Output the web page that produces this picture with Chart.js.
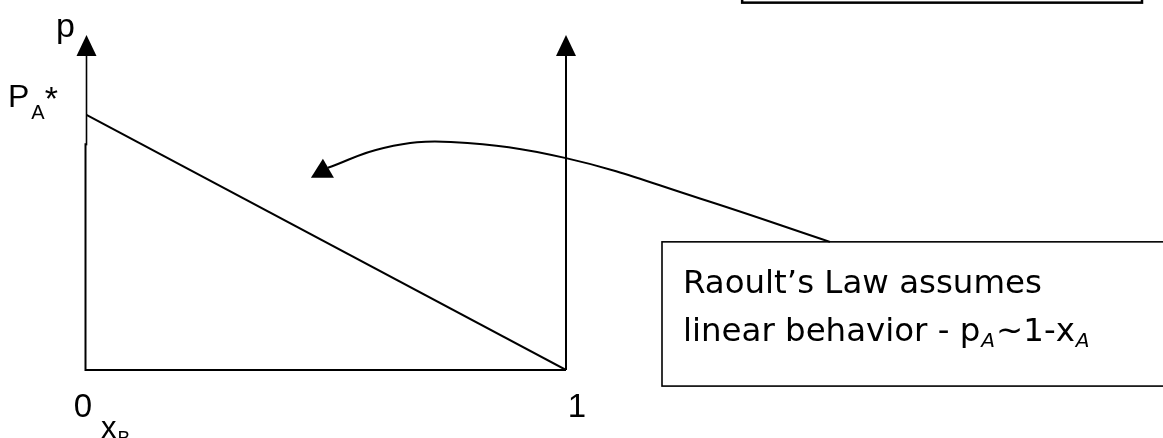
<!DOCTYPE html>
<html>
<head>
<meta charset="utf-8">
<script src="https://cdn.jsdelivr.net/npm/chart.js@4.4.1/dist/chart.umd.min.js"></script>
<style>
  html, body { margin: 0; padding: 0; background: #fff; overflow: hidden; }
</style>
</head>
<body>
<canvas id="chart" width="1163" height="438"></canvas>
<script>
// mole fraction of B and the ideal partial pressure of A (P_A* = 1)
const moleFractionB = [0, 1];
const pressureA = [1, 0];
const xTickValues = [0, 1];
const xTickLabels = ['0', '1'];

// callout arrow path, in data units
const curveX = [1.55, 1.279, 1.0, 0.76, 0.62, 0.504];
const curveY = [0.502, 0.672, 0.83, 0.893, 0.87, 0.792];

const noteLine1 = 'Raoult\u2019s Law assumes';
const noteLine2 = ['linear behavior - p', 'A', '~1-x', 'A'];

// boxes, in data units
const noteBox = { left: 1.2, right: 2.45, top: 0.502, bottom: -0.063 };
const topBox = { left: 1.367, right: 2.2, top: 1.6, bottom: 1.439 };

const AXIS_FONT = '"Liberation Sans", Arial, sans-serif';
const NOTE_FONT = '"DejaVu Sans", sans-serif';

function triangleUp(ctx, cx, tipY, halfW, h) {
    ctx.beginPath();
    ctx.moveTo(cx, tipY);
    ctx.lineTo(cx + halfW, tipY + h);
    ctx.lineTo(cx - halfW, tipY + h);
    ctx.closePath();
    ctx.fill();
}

function drawRich(ctx, x, y, parts) {
    parts.forEach(p => {
        ctx.font = p.font;
        ctx.fillText(p.text, x, y + (p.dy || 0));
        x += ctx.measureText(p.text).width + (p.gap || 0);
    });
}

const sketchPlugin = {
    id: 'sketch',
    afterDatasetsDraw(chart) {
        const ctx = chart.ctx;
        const xs = chart.scales.x;
        const ys = chart.scales.y;
        const px = v => xs.getPixelForValue(v);
        const py = v => ys.getPixelForValue(v);

        const xLeft = px(0), xRight = px(1), yBase = py(0), yTop = ys.top;

        ctx.save();
        ctx.strokeStyle = '#000';
        ctx.fillStyle = '#000';

        // axes
        ctx.lineWidth = 1.6;
        ctx.beginPath();
        ctx.moveTo(xLeft + 0.5, yTop);
        ctx.lineTo(xLeft + 0.5, py(0.88));
        ctx.stroke();
        ctx.lineWidth = 2;
        ctx.beginPath();
        ctx.moveTo(xLeft - 0.5, py(0.88) - 2);
        ctx.lineTo(xLeft - 0.5, yBase);
        ctx.lineTo(xRight, yBase);
        ctx.stroke();
        ctx.beginPath();
        ctx.moveTo(xRight, yBase);
        ctx.lineTo(xRight, yTop);
        ctx.stroke();

        triangleUp(ctx, xLeft + 0.5, yTop - 21, 10, 21);
        triangleUp(ctx, xRight, yTop - 21, 10, 21);

        // arrowhead at the end of the callout curve
        const endX = px(curveX[curveX.length - 1]);
        const endY = py(curveY[curveY.length - 1]);
        ctx.beginPath();
        ctx.moveTo(endX - 5, endY - 9);
        ctx.lineTo(endX + 6, endY + 10);
        ctx.lineTo(endX - 17, endY + 10);
        ctx.closePath();
        ctx.fill();

        // boxes
        ctx.lineWidth = 1.6;
        ctx.strokeRect(px(noteBox.left), py(noteBox.top),
            px(noteBox.right) - px(noteBox.left), py(noteBox.bottom) - py(noteBox.top));
        ctx.lineWidth = 2.5;
        ctx.strokeRect(px(topBox.left), py(topBox.top),
            px(topBox.right) - px(topBox.left), py(topBox.bottom) - py(topBox.top));

        // axis labels
        ctx.textBaseline = 'alphabetic';
        ctx.textAlign = 'center';
        ctx.font = '33px ' + AXIS_FONT;
        xTickValues.forEach((v, i) => {
            const off = v === 0 ? -3 : 11;
            ctx.fillText(xTickLabels[i], px(v) + off, yBase + 47);
        });

        ctx.textAlign = 'left';
        drawRich(ctx, 101, yBase + 68, [
            { text: 'x', font: '31px ' + AXIS_FONT, gap: 1 },
            { text: 'B', font: '19px ' + AXIS_FONT, dy: 6 }
        ]);

        ctx.font = '34px ' + AXIS_FONT;
        ctx.fillText('p', 56, yTop - 19);

        const yStar = py(1);
        drawRich(ctx, 8, yStar - 8, [
            { text: 'P', font: '32px ' + AXIS_FONT, gap: 2 },
            { text: 'A', font: '20px ' + AXIS_FONT, dy: 12, gap: 0 },
            { text: '*', font: '34px ' + AXIS_FONT, dy: 3 }
        ]);

        // note text
        const noteX = px(noteBox.left) + 21;
        const noteTop = py(noteBox.top);
        ctx.font = '32px ' + NOTE_FONT;
        const size = 32 * 359 / ctx.measureText(noteLine1).width;
        ctx.font = size + 'px ' + NOTE_FONT;
        ctx.fillText(noteLine1, noteX, noteTop + 51);
        drawRich(ctx, noteX, noteTop + 99, [
            { text: noteLine2[0], font: size + 'px ' + NOTE_FONT, gap: 1 },
            { text: noteLine2[1], font: 'italic ' + (size * 0.62) + 'px ' + NOTE_FONT, dy: 6, gap: 1 },
            { text: noteLine2[2], font: size + 'px ' + NOTE_FONT, gap: 1 },
            { text: noteLine2[3], font: 'italic ' + (size * 0.62) + 'px ' + NOTE_FONT, dy: 6 }
        ]);

        ctx.restore();
    }
};

new Chart(document.getElementById('chart'), {
    type: 'scatter',
    data: {
        datasets: [
            {
                label: 'Raoult',
                data: moleFractionB.map((v, i) => ({ x: v, y: pressureA[i] })),
                showLine: true,
                borderColor: '#000',
                borderWidth: 2,
                pointRadius: 0,
                tension: 0
            },
            {
                label: 'callout',
                data: curveX.map((v, i) => ({ x: v, y: curveY[i] })),
                showLine: true,
                borderColor: '#000',
                borderWidth: 2,
                pointRadius: 0,
                tension: 0.4,
                capBezierPoints: false,
                clip: false
            }
        ]
    },
    options: {
        responsive: false,
        animation: false,
        events: [],
        layout: { padding: { left: 86, right: 597, top: 56, bottom: 68 } },
        plugins: { legend: { display: false }, tooltip: { enabled: false } },
        scales: {
            x: { type: 'linear', min: 0, max: 1, display: false },
            y: { type: 'linear', min: 0, max: 1.23, display: false }
        }
    },
    plugins: [sketchPlugin]
});
</script>
</body>
</html>
